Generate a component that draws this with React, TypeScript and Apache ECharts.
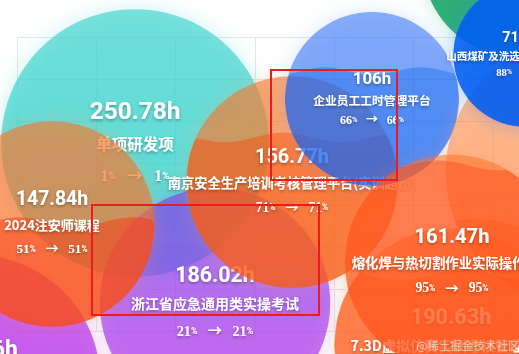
import React, { useEffect, useRef } from 'react';
import * as echarts from 'echarts';

// ---- data (in draw order) ----
const bubbleNames = [
  '矿山安全培训考核平台',
  '单项研发项',
  '危化品安全作业培训',
  '浙江省应急通用类实操考试',
  '南京安全生产培训考核管理平台(实训超市)',
  '2024注安师课程',
  '企业员工工时管理平台',
  '特种作业培训',
  '7.3D虚拟仿真实训考核管理系统',
  '熔化焊与热切割作业实际操作考试',
  '山西煤矿及洗选煤厂安全培训考核',
];
const bubbleHours = [134.5, 250.78, 219.26, 186.02, 156.77, 147.84, 106, 245.3, 190.63, 161.47, 71.95];
const startPercents = [52, 1, 40, 21, 71, 51, 66, 30, 80, 95, 88];
const endPercents = [52, 1, 40, 21, 71, 51, 66, 30, 80, 95, 88];
const bubbleX = [520, 135, -25, 215, 292, 52, 372, 578, 451, 452, 525];
const bubbleY = [-40, 143, 380, 303, 182, 224, 99, 172, 345, 262, 55];

// ---- styles ----
const palette = [
  { top: 'rgba(12,169,98,0.7)', bottom: 'rgba(12,169,98,0.7)', fill: 'rgba(0,150,90,0.4)', glow: 'rgba(80,200,150,0.5)' },
  { top: 'rgba(60,212,206,0.64)', bottom: 'rgba(30,204,197,0.7)', fill: 'rgba(0,180,175,0.4)', glow: 'rgba(90,215,210,0.5)' },
  { top: 'rgba(176,34,234,0.68)', bottom: 'rgba(190,30,234,0.7)', fill: 'rgba(180,20,230,0.4)', glow: 'rgba(200,110,240,0.45)' },
  { top: 'rgba(109,63,232,0.64)', bottom: 'rgba(194,32,232,0.66)', fill: 'rgba(200,20,230,0.4)', glow: 'rgba(190,110,240,0.45)' },
  { top: 'rgba(247,113,30,0.58)', bottom: 'rgba(247,113,30,0.6)', fill: 'rgba(250,70,0,0.42)', glow: 'rgba(255,160,100,0.45)' },
  { top: 'rgba(247,113,30,0.58)', bottom: 'rgba(250,100,20,0.6)', fill: 'rgba(250,50,10,0.45)', glow: 'rgba(255,150,90,0.45)' },
  { top: 'rgba(10,100,245,0.5)', bottom: 'rgba(0,92,245,0.52)', fill: 'rgba(0,95,238,0.34)', glow: 'rgba(110,160,250,0.5)' },
  { top: 'rgba(255,130,50,0.5)', bottom: 'rgba(255,120,40,0.52)', fill: 'rgba(255,80,10,0.4)', glow: 'rgba(255,160,100,0.4)' },
  { top: 'rgba(255,110,30,0.55)', bottom: 'rgba(255,105,25,0.57)', fill: 'rgba(255,70,10,0.4)', glow: 'rgba(255,150,90,0.45)' },
  { top: 'rgba(255,115,35,0.52)', bottom: 'rgba(255,105,30,0.54)', fill: 'rgba(255,65,20,0.4)', glow: 'rgba(255,130,80,0.45)' },
  { top: 'rgba(0,92,245,0.75)', bottom: 'rgba(0,88,245,0.77)', fill: 'rgba(0,95,240,0.4)', glow: 'rgba(40,120,245,0.5)' },
];

const RADIUS_K = 8.45;
const SANS = "Roboto, 'Noto Sans CJK SC', sans-serif";
const CJK = "'Noto Sans CJK SC', Roboto, sans-serif";
const SHADOW = { textShadowColor: 'rgba(0,0,0,0.35)', textShadowBlur: 3, textShadowOffsetY: 1.5 };

function fmtHours(h: number) {
  return Number.isInteger(h) ? `${h}h` : `${h.toFixed(2)}h`;
}

function wavePoints(r: number, p: number, phase: number) {
  const level = r - p * 2 * r;
  const amp = Math.max(2.5, r * 0.045);
  const lambda = r * 1.1;
  const n = 72;
  const tops: number[][] = [];
  const bottoms: number[][] = [];
  for (let k = 0; k <= n; k++) {
    const x = -r + (2 * r * k) / n;
    const h = Math.sqrt(Math.max(0, r * r - x * x));
    const w = level + amp * Math.sin((2 * Math.PI * x) / lambda + phase);
    const top = Math.min(h, Math.max(w, -h));
    tops.push([x, top]);
    bottoms.push([x, h]);
  }
  return tops.concat(bottoms.reverse());
}

export default function App() {
  const ref = useRef<HTMLDivElement>(null);
  useEffect(() => {
    if (!ref.current) return;
    const chart = echarts.init(ref.current, undefined, { renderer: 'svg' });
    const data = bubbleX.map((x, i) => [x, bubbleY[i], bubbleHours[i], startPercents[i], endPercents[i]]);

    const renderItem = (params: any, api: any) => {
      const i = params.dataIndex;
      const pt = api.coord([api.value(0), api.value(1)]);
      const h = api.value(2);
      const p0 = api.value(3);
      const p1 = api.value(4);
      const r = RADIUS_K * Math.sqrt(h);
      const c = palette[i];
      const valueFs = r * 0.16 + 3;
      const nameFs = r * 0.08 + 4.8;
      const pctFs = nameFs * 1.02;
      return {
        type: 'group',
        x: pt[0],
        y: pt[1],
        children: [
          {
            type: 'circle',
            shape: { cx: 0, cy: 0, r },
            style: {
              fill: {
                type: 'linear', x: 0, y: 0, x2: 0, y2: 1,
                colorStops: [{ offset: 0, color: c.top }, { offset: 1, color: c.bottom }],
              },
              shadowBlur: 18,
              shadowColor: c.glow,
            },
          },
          {
            type: 'polygon',
            shape: { points: wavePoints(r, p1 / 100, i * 1.3) },
            style: { fill: c.fill },
          },
          {
            type: 'text',
            style: {
              text: fmtHours(h),
              x: 0,
              y: -0.245 * r,
              fill: '#fff',
              fontSize: valueFs,
              fontWeight: 'bold',
              fontFamily: SANS,
              align: 'center',
              verticalAlign: 'middle',
              ...SHADOW,
            },
          },
          {
            type: 'text',
            style: {
              text: bubbleNames[i],
              x: 0,
              y: 0,
              fill: '#fff',
              fontSize: nameFs,
              fontWeight: 'bold',
              fontFamily: CJK,
              align: 'center',
              verticalAlign: 'middle',
              ...SHADOW,
            },
          },
          {
            type: 'text',
            style: {
              text: `{v|${p0}}{p|%}{a|→}{v|${p1}}{p|%}`,
              x: 0,
              y: 0.24 * r,
              fill: '#fff',
              align: 'center',
              verticalAlign: 'middle',
              rich: {
                v: { fontSize: pctFs, fontWeight: 'bold', fontFamily: "'Liberation Serif', serif", fill: '#fff', ...SHADOW },
                p: { fontSize: pctFs * 0.62, fontWeight: 'bold', fontFamily: SANS, fill: '#fff', ...SHADOW },
                a: { fontSize: pctFs, fontWeight: 'bold', fontFamily: SANS, fill: '#fff', padding: [0, pctFs * 0.72], ...SHADOW },
              },
            },
          },
        ],
      };
    };

    chart.setOption({
      animation: false,
      backgroundColor: '#ffffff',
      grid: [
        { left: 17, right: 26, top: 37, bottom: 23, show: false },
        { left: 0, right: 0, top: 0, bottom: 0, show: false },
      ],
      xAxis: [
        {
          gridIndex: 0, type: 'value', min: 0, max: 6, interval: 1,
          axisLine: { show: false }, axisTick: { show: false }, axisLabel: { show: false },
          splitLine: { show: true, lineStyle: { color: '#e6e6e6', width: 1 } },
        },
        {
          gridIndex: 1, type: 'value', min: 0, max: 519, show: false, splitLine: { show: false },
        },
      ],
      yAxis: [
        {
          gridIndex: 0, type: 'value', min: 0, max: 7, interval: 1,
          axisLine: { show: false }, axisTick: { show: false }, axisLabel: { show: false },
          splitLine: { show: true, lineStyle: { color: '#e6e6e6', width: 1 } },
        },
        {
          gridIndex: 1, type: 'value', min: 0, max: 354, inverse: true, show: false, splitLine: { show: false },
        },
      ],
      series: [
        {
          type: 'custom',
          xAxisIndex: 1,
          yAxisIndex: 1,
          clip: false,
          renderItem,
          data,
        },
      ],
      graphic: [
        {
          type: 'rect', z: 100,
          shape: { x: 271, y: 70, width: 126, height: 110 },
          style: { fill: 'none', stroke: '#ec1c1c', lineWidth: 2 },
        },
        {
          type: 'rect', z: 100,
          shape: { x: 92, y: 205, width: 227, height: 110 },
          style: { fill: 'none', stroke: '#ec1c1c', lineWidth: 2 },
        },
        {
          type: 'text', z: 100, x: 468, y: 345,
          style: {
            text: '@稀土掘金技术社区', fill: 'rgba(240,240,240,0.7)', fontSize: 11.5,
            fontFamily: CJK, align: 'center', verticalAlign: 'middle',
          },
        },
      ],
    });
    return () => chart.dispose();
  }, []);
  return <div ref={ref} style={{ position: 'fixed', left: 0, top: 0, width: 519, height: 354 }} />;
}
